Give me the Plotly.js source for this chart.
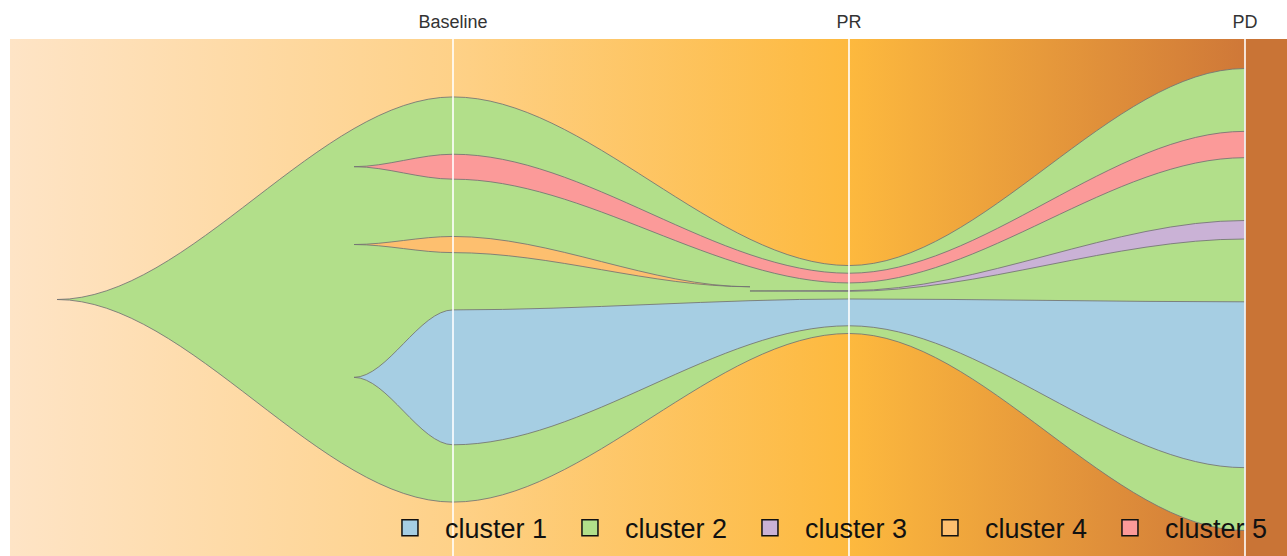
<!DOCTYPE html>
<html><head><meta charset="utf-8">
<script src="https://cdn.plot.ly/plotly-3.0.1.min.js"></script>
<style>html,body{margin:0;padding:0;background:#fff}#chart{width:1287px;height:556px}</style>
</head><body><div id="chart"></div>
<script>
// ---- data ----
const timepoints = [0, 1, 2];
const timeLabels = ['Baseline', 'PR', 'PD'];
const clusterNames = ['cluster 1', 'cluster 2', 'cluster 3', 'cluster 4', 'cluster 5'];
const parents = [2, 0, 2, 2, 2];           // 1-based parent cluster, 0 = founding clone
const frac1 = [29.2, 5.8, 35.9];
const frac2 = [87.7, 14.7, 100];
const frac3 = [0, 0.15, 4.0];
const frac4 = [3.5, 0, 0];
const frac5 = [5.4, 2.1, 5.7];
const fractions = [frac1, frac2, frac3, frac4, frac5];
const clusterColors = ['#A6CEE3', '#B2DF8A', '#CAB2D6', '#FDBF6F', '#FB9A99'];

// ---- layout parameters ----
const rootLead = 1.0, emergeLead = 0.25;
const xmin = -1.1187, xmax = 2.1061, ymin = -55.52, ymax = 56.39;
const bgStops = [[xmin, '#FEE4C6'], [timepoints[0], '#FED188'], [timepoints[1], '#FDB93E'],
                 [timepoints[2], '#CF7838'], [timepoints[2], '#C97436'], [xmax, '#C97436']];

// ---- fish layout (even spacing of children inside parent) ----
const nC = clusterNames.length;
const pos = clusterNames.map(() => timepoints.map(() => null));
function kidsOf(c) { const r = []; for (let k = 0; k < nC; k++) if (parents[k] === c + 1) r.push(k); return r; }
function place(c, i, bot, top) {
  pos[c][i] = { bot, top };
  const kids = kidsOf(c);
  if (!kids.length) return;
  const nz = kids.filter(k => fractions[k][i] > 0);
  const sum = nz.reduce((a, k) => a + fractions[k][i], 0);
  const gap = (top - bot - sum) / (nz.length + 1);
  let cur = bot + gap;
  kids.forEach(k => {
    const f = fractions[k][i];
    if (f > 0) { place(k, i, cur, cur + f); cur += f + gap; }
    else { const y = cur - gap / 2; place(k, i, y, y); }
  });
}
for (let c = 0; c < nC; c++) if (parents[c] === 0)
  timepoints.forEach((t, i) => place(c, i, -fractions[c][i] / 2, fractions[c][i] / 2));

function knots(c) {
  const f = fractions[c], out = []; let alive = false;
  timepoints.forEach((t, i) => {
    const p = pos[c][i];
    if (f[i] > 0) {
      if (!alive) {
        const mid = (p.bot + p.top) / 2;
        out.push({ x: t - (parents[c] === 0 ? rootLead : emergeLead), top: mid, bot: mid });
        alive = true;
      }
      out.push({ x: t, top: p.top, bot: p.bot });
    } else if (alive) {
      out.push({ x: t - emergeLead, top: p.top, bot: p.bot });
      alive = false;
    }
  });
  return out;
}
function fishPath(k) {
  let d = 'M' + k[0].x + ',' + k[0].top;
  for (let j = 1; j < k.length; j++) {
    const h = k[j].x - k[j - 1].x;
    d += ' C' + (k[j - 1].x + h / 3) + ',' + k[j - 1].top + ' ' + (k[j].x - h / 3) + ',' + k[j].top + ' ' + k[j].x + ',' + k[j].top;
  }
  const L = k[k.length - 1];
  d += ' L' + L.x + ',' + L.bot;
  for (let j = k.length - 1; j > 0; j--) {
    const h = k[j].x - k[j - 1].x;
    d += ' C' + (k[j].x - h / 3) + ',' + k[j].bot + ' ' + (k[j - 1].x + h / 3) + ',' + k[j - 1].bot + ' ' + k[j - 1].x + ',' + k[j - 1].bot;
  }
  return d + ' Z';
}

// draw order: roots first, then children
const order = [];
(function walk(list) { list.forEach(c => { order.push(c); walk(kidsOf(c)); }); })
  ([...Array(nC).keys()].filter(c => parents[c] === 0));

const shapes = order.map(c => ({
  type: 'path', xref: 'x', yref: 'y', layer: 'above', path: fishPath(knots(c)),
  fillcolor: clusterColors[c], line: { color: 'rgba(115,115,115,0.85)', width: 1 }
}));
timepoints.forEach(t => shapes.push({
  type: 'line', xref: 'x', yref: 'paper', x0: t, x1: t, y0: 0, y1: 1, layer: 'above',
  line: { color: 'rgba(255,255,255,0.8)', width: 2 }
}));

// background gradient
const span = xmax - xmin;
const stopsSvg = bgStops.map(s => `<stop offset="${((s[0] - xmin) / span).toFixed(5)}" stop-color="${s[1]}"/>`).join('');
const svg = `<svg xmlns="http://www.w3.org/2000/svg" width="1000" height="10" viewBox="0 0 1000 10" preserveAspectRatio="none"><defs><linearGradient id="g" x1="0" x2="1" y1="0" y2="0">${stopsSvg}</linearGradient></defs><rect width="1000" height="10" fill="url(#g)"/></svg>`;

const traces = clusterNames.map((name, c) => ({
  type: 'scatter', mode: 'markers', x: [null], y: [null], name: name, hoverinfo: 'skip',
  marker: { symbol: 'square', size: 19, color: clusterColors[c], line: { color: '#111', width: 1.5 } }
}));

const layout = {
  width: 1287, height: 556,
  margin: { l: 10, r: 0, t: 39, b: 0, pad: 0 },
  paper_bgcolor: '#ffffff', plot_bgcolor: 'rgba(0,0,0,0)',
  font: { family: '"Liberation Sans", Arial, sans-serif', color: '#333' },
  xaxis: { range: [xmin, xmax], side: 'top', tickmode: 'array', tickvals: timepoints, ticktext: timeLabels,
           ticks: '', showgrid: false, zeroline: false, showline: false, fixedrange: true,
           tickfont: { size: 18, color: '#333' }, ticklabelstandoff: 6 },
  yaxis: { range: [ymin, ymax], visible: false, fixedrange: true },
  showlegend: true,
  legend: { orientation: 'h', x: 0.2858, xanchor: 'left', y: 0.054, yanchor: 'middle',
            bgcolor: 'rgba(0,0,0,0)', font: { size: 27, color: '#111' },
            itemwidth: 60, entrywidth: 105, entrywidthmode: 'pixels', traceorder: 'normal' },
  images: [{ source: 'data:image/svg+xml;base64,' + btoa(svg), xref: 'paper', yref: 'paper',
             x: 0, y: 1, sizex: 1, sizey: 1, xanchor: 'left', yanchor: 'top', sizing: 'stretch', layer: 'below' }],
  shapes: shapes
};
Plotly.newPlot('chart', traces, layout, { displayModeBar: false, staticPlot: true });
</script>
</body></html>
